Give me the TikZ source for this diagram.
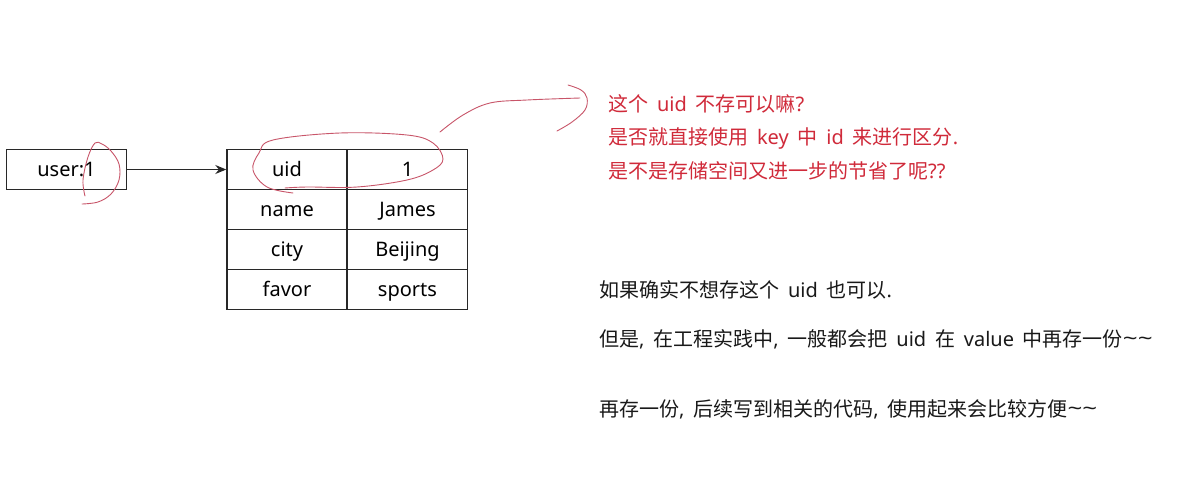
\documentclass[tikz,border=0pt]{standalone}
\usepackage{fontspec}
\setmainfont{Noto Sans}[WordSpace=1.7]
\newfontfamily\cjk{Noto Sans CJK SC}
\usetikzlibrary{arrows.meta}
\definecolor{tred}{RGB}{208,42,58}
\definecolor{pen}{RGB}{200,85,105}
\definecolor{linec}{RGB}{40,40,40}
\newcommand{\tld}{\raisebox{0.1ex}{\scalebox{1.3}[1]{\textasciitilde}}}
\tikzset{
  cell/.style={draw=linec, line width=1.4pt, minimum width=120pt, minimum height=40pt, inner sep=0pt, text height=16pt, text depth=2pt, font=\fontsize{20}{24}\selectfont},
  redtxt/.style={anchor=west, inner sep=0pt, text=tred, font=\fontsize{20}{24}\selectfont},
  blktxt/.style={anchor=west, inner sep=0pt, text=black!90, font=\fontsize{20}{24}\selectfont},
  penline/.style={draw=pen, line width=0.9pt, line cap=round, line join=round}
}
\begin{document}
\begin{tikzpicture}[x=1pt,y=-1pt]
\useasboundingbox (0,0) rectangle (1178,493);
\fill[white] (0,0) rectangle (1178,493);
% key box
\node[cell] (key) at (66.5,169.5) {user:1};
% table
\node[cell] (k1) at (287,169.5) {uid};
\node[cell] (v1) at (407.5,169.5) {1};
\node[cell] (k2) at (287,209.5) {name};
\node[cell] (v2) at (407.5,209.5) {James};
\node[cell] (k3) at (287,249.5) {city};
\node[cell] (v3) at (407.5,249.5) {Beijing};
\node[cell] (k4) at (287,289.5) {favor};
\node[cell] (v4) at (407.5,289.5) {sports};
\draw[linec, line width=1.1pt, -{Stealth[length=11pt,width=9pt]}] (key.east) -- (k1.west);
% red questions
\node[redtxt] (q1) at (608,104) {{\cjk 这个} uid {\cjk 不存可以嘛}?};
\node[redtxt] (q2) at (608,138) {{\cjk 是否就直接使用} key {\cjk 中} id {\cjk 来进行区分}.};
\node[redtxt] (q3) at (608,171) {{\cjk 是不是存储空间又进一步的节省了呢}??};
% black answers
\node[blktxt] (a1) at (599,290) {{\cjk 如果确实不想存这个} uid {\cjk 也可以}.};
\node[blktxt] (a2) at (599,339) {{\cjk 但是}, {\cjk 在工程实践中}, {\cjk 一般都会把} uid {\cjk 在} value {\cjk 中再存一份}\tld\tld};
\node[blktxt] (a3) at (599,409) {{\cjk 再存一份}, {\cjk 后续写到相关的代码}, {\cjk 使用起来会比较方便}\tld\tld};
% hand-drawn pen marks
\draw[penline] plot[smooth, tension=0.6] coordinates {(85,196) (83,180) (88,157) (95,143) (102,144) (111,151) (119,164) (119,180) (111,194) (98,202) (82,204)};
\draw[penline] plot[smooth, tension=0.6] coordinates {(293,193) (267,187) (253,170) (259,153) (273,140) (340,133) (407,135) (433,143) (443,159) (433,170) (407,180) (357,187) (307,187) (285,188)};
\draw[penline] plot[smooth, tension=0.6] coordinates {(440,132) (463,115) (490,103) (527,100) (580,98)};
\draw[penline] plot[smooth, tension=0.6] coordinates {(568,85) (581,90) (587,98) (585,110) (572,122) (557,131)};
\end{tikzpicture}
\end{document}
